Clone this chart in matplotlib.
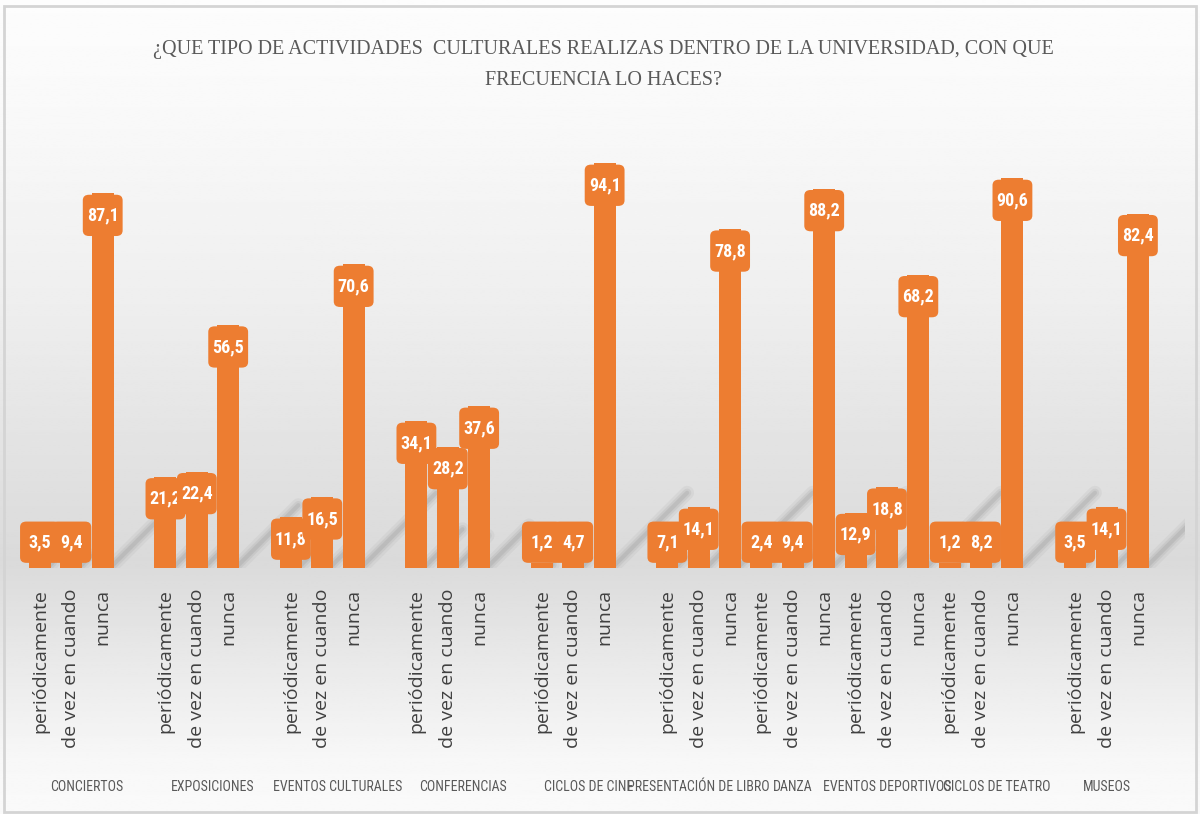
import numpy as np
import matplotlib
matplotlib.use("Agg")
from matplotlib import pyplot as plt
from matplotlib.patches import FancyBboxPatch, Rectangle
from matplotlib import transforms

# data
actividades = ["CONCIERTOS", "EXPOSICIONES", "EVENTOS CULTURALES", "CONFERENCIAS",
               "CICLOS DE CINE", "PRESENTACIÓN DE LIBRO", "DANZA",
               "EVENTOS DEPORTIVOS", "CICLOS DE TEATRO", "MUSEOS"]
frecuencias = ["periódicamente", "de vez en cuando", "nunca"]
periodicamente = [3.5, 21.2, 11.8, 34.1, 1.2, 7.1, 2.4, 12.9, 1.2, 3.5]
de_vez = [9.4, 22.4, 16.5, 28.2, 4.7, 14.1, 9.4, 18.8, 8.2, 14.1]
nunca = [87.1, 56.5, 70.6, 37.6, 94.1, 78.8, 88.2, 68.2, 90.6, 82.4]

titulo = "¿QUE TIPO DE ACTIVIDADES  CULTURALES REALIZAS DENTRO DE LA UNIVERSIDAD, CON QUE\nFRECUENCIA LO HACES?"

# layout: empty slot after each group (some groups in the original have none)
gaps = [1, 1, 1, 1, 1, 0, 0, 0, 1, 0]

naranja = "#ED7D31"
gris = "#595959"
narrow = ["DejaVu Sans Condensed", "Roboto Condensed", "Liberation Sans Narrow", "Roboto"]

fig = plt.figure(figsize=(12, 8.14), dpi=100)

# background gradient
bg = fig.add_axes([0, 0, 1, 1], zorder=-10)
ys = np.linspace(0, 814, 400)
shade = np.interp(ys, [0, 120, 300, 560, 620, 760, 814],
                  [0.99, 0.975, 0.935, 0.855, 0.89, 0.97, 0.98])
img = np.repeat(shade[:, None], 2, axis=1)
bg.imshow(img, cmap="gray", vmin=0, vmax=1, aspect="auto", extent=[0, 1, 0, 1])
bg.set_axis_off()
fig.add_artist(Rectangle((0.003, 0.003), 0.994, 0.99, transform=fig.transFigure,
                         fill=False, edgecolor="#d4d4d4", linewidth=2))

ax = fig.add_axes([0.00717, 0.3022, 0.9803, 0.5283])
ax.set_facecolor("none")
for s in ax.spines.values():
    s.set_visible(False)

# slot positions
slots = []
centros = []
pos = 0
for i in range(len(actividades)):
    grupo = [pos, pos + 1, pos + 2]
    slots.append(grupo)
    centros.append(pos + 1 + 0.5 * gaps[i])
    pos += 3 + gaps[i]

xs = []
vals = []
labels = []
for i in range(len(actividades)):
    for j, serie in enumerate([periodicamente, de_vez, nunca]):
        xs.append(slots[i][j])
        vals.append(serie[i])
        labels.append(frecuencias[j])

bar_w = 0.7
box_w = 1.27
box_h = 9.6

# perspective shadows
for x, v in zip(xs, vals):
    dy = min(0.25 * v, 17)
    dx = dy * 4.3 / 31.37
    for lw, a in [(10, 0.05), (6, 0.07), (3, 0.09)]:
        ax.plot([x + 0.3, x + 0.3 + dx], [0.5, 0.5 + dy], color="#404040",
                lw=lw, alpha=a, solid_capstyle="round", zorder=1)

ax.bar(xs, vals, width=bar_w, color=naranja, zorder=2)

for k, (x, v) in enumerate(zip(xs, vals)):
    top = max(v - 0.3, 1.2 + box_h)
    box = FancyBboxPatch((x - box_w / 2, top - box_h), box_w, box_h,
                         boxstyle="round,pad=0,rounding_size=0.2",
                         mutation_aspect=6.5, facecolor=naranja,
                         edgecolor="none", zorder=3 + 2 * k)
    ax.add_patch(box)
    ax.text(x, top - box_h / 2, f"{v:.1f}".replace(".", ","), ha="center",
            va="center", color="white", fontsize=13, fontweight="bold",
            family=narrow, zorder=4 + 2 * k)

ax.set_xlim(-1, 36.5)
ax.set_ylim(0, 100)
ax.set_yticks([])
ax.set_xticks(xs)
ax.set_xticklabels(labels, rotation=90, va="top", ha="center", fontsize=14,
                   color="#404040", family=["Open Sans", "DejaVu Sans"])
ax.tick_params(axis="x", length=0, pad=15)

trans = transforms.blended_transform_factory(ax.transData, ax.transAxes)
for c, nombre in zip(centros, actividades):
    ax.text(c, -0.51, nombre, transform=trans, ha="center", va="center",
            fontsize=10, color=gris, family=narrow)

fig.text(0.503, 0.92, titulo, ha="center", va="center", fontsize=14.5,
         color=gris, family=["Liberation Serif", "DejaVu Serif"],
         linespacing=1.9)

fig.savefig("out.png", dpi=100)
